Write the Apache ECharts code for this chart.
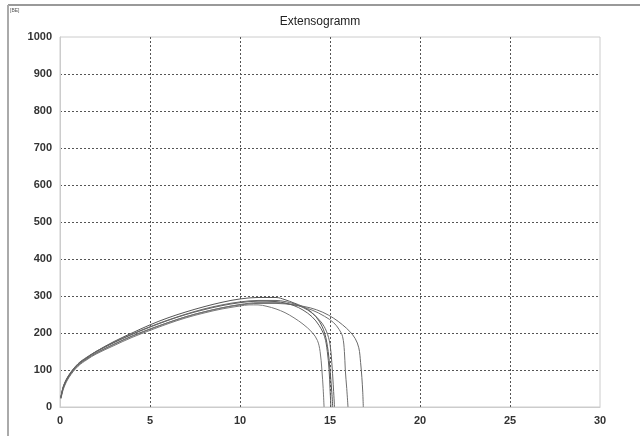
<!DOCTYPE html>
<html>
<head>
<meta charset="utf-8">
<script src="https://cdn.jsdelivr.net/npm/echarts@6/dist/echarts.min.js"></script>
<style>
  html, body { margin: 0; padding: 0; background: #fff; }
  #chart { width: 640px; height: 436px; }
</style>
</head>
<body>
<div id="chart"></div>
<script>
// Extensogram: force over extension, six test pieces
const xTicks = [0, 5, 10, 15, 20, 25, 30];
const yTicks = [0, 100, 200, 300, 400, 500, 600, 700, 800, 900, 1000];

const curve1 = [[0.05,25],[0.2,55],[0.5,85],[1,115],[1.5,133],[2,150],[3,177],[4,200],[5,222],[6,241],[7,257],[8,271],[9,283],[10,292],[11,296],[12,296],[12.5,290],[13,281],[13.5,271],[14,255],[14.4,232],[14.7,200],[14.9,150],[15.0,100],[15.1,40],[15.15,0]];
const curve2 = [[0.05,22],[0.2,50],[0.5,80],[1,110],[1.5,128],[2,143],[3,166],[4,188],[5,207],[6,225],[7,241],[8,254],[9,265],[10,273],[10.5,276],[11,276],[11.5,272],[12,265],[12.5,255],[13,241],[13.5,224],[14,202],[14.3,180],[14.45,150],[14.55,100],[14.62,50],[14.67,0]];
const curve3 = [[0.05,26],[0.2,56],[0.5,84],[1,113],[1.5,131],[2,146],[3,170],[4,192],[5,211],[6,228],[7,244],[8,257],[9,268],[10,276],[11,280],[12,280],[13,276],[13.9,268],[14.6,256],[15.2,240],[15.7,222],[16.1,204],[16.4,185],[16.6,160],[16.7,120],[16.77,80],[16.82,40],[16.85,0]];
const curve4 = [[0.05,24],[0.2,53],[0.5,82],[1,112],[1.5,130],[2,145],[3,169],[4,191],[5,210],[6,228],[7,244],[8,257],[9,268],[10,277],[11,282],[12,282],[13,276],[14,262],[14.7,245],[15.2,228],[15.5,210],[15.7,190],[15.8,150],[15.85,100],[15.93,50],[16.0,0]];
const curve5 = [[0.05,25],[0.2,57],[0.5,86],[1,116],[1.5,134],[2,149],[3,174],[4,196],[5,216],[6,234],[7,250],[8,263],[9,274],[10,282],[11,286],[12,285],[12.5,281],[13,274],[13.5,262],[14,244],[14.4,220],[14.7,190],[14.85,150],[14.95,100],[15.0,50],[15.05,0]];
const curve6 = [[0.05,27],[0.2,58],[0.5,87],[1,117],[1.5,135],[2,150],[3,175],[4,197],[5,217],[6,235],[7,251],[8,265],[9,276],[10,284],[11,288],[12,288],[12.5,285],[13,279],[13.5,269],[14,254],[14.5,230],[14.8,205],[15.0,170],[15.1,120],[15.18,60],[15.25,0]];

const curves = [curve1, curve2, curve3, curve4, curve5, curve6];
const curveColors = ['#555', '#7a7a7a', '#6a6a6a', '#707070', '#5e5e5e', '#666'];

const chart = echarts.init(document.getElementById('chart'), null, { renderer: 'canvas' });

const labelFont = { color: '#333', fontSize: 11, fontWeight: 'bold', fontFamily: 'Liberation Sans, Arial, sans-serif' };

chart.setOption({
  backgroundColor: '#fff',
  animation: false,
  title: {
    text: 'Extensogramm',
    left: 'center',
    top: 11,
    textStyle: { color: '#222', fontSize: 12, fontWeight: 'normal', fontFamily: 'Liberation Sans, Arial, sans-serif' }
  },
  graphic: [
    { type: 'line', shape: { x1: 8, y1: 5, x2: 640, y2: 5 }, style: { stroke: '#999', lineWidth: 2 } },
    { type: 'line', shape: { x1: 8, y1: 5, x2: 8, y2: 436 }, style: { stroke: '#aaa', lineWidth: 2 } },
    { type: 'text', left: 10, top: 8, style: { text: '[BE]', fill: '#555', fontSize: 5, fontFamily: 'Liberation Sans, Arial, sans-serif' } }
  ],
  grid: {
    left: 60, right: 40, top: 37, bottom: 29,
    show: true, borderColor: '#ccc', borderWidth: 1, backgroundColor: 'transparent'
  },
  xAxis: {
    type: 'value',
    min: xTicks[0], max: xTicks[xTicks.length - 1], interval: 5,
    axisLine: { show: true, lineStyle: { color: '#ccc' } },
    axisTick: { show: false },
    axisLabel: Object.assign({ margin: 8, formatter: v => String(v) }, labelFont),
    splitLine: { show: true, showMinLine: false, showMaxLine: false, lineStyle: { color: '#555', type: [2, 2], width: 1 } }
  },
  yAxis: {
    type: 'value',
    min: yTicks[0], max: yTicks[yTicks.length - 1], interval: 100,
    axisLine: { show: true, lineStyle: { color: '#ccc' } },
    axisTick: { show: false },
    axisLabel: Object.assign({ margin: 8, formatter: v => String(v) }, labelFont),
    splitLine: { show: true, showMinLine: false, showMaxLine: false, lineStyle: { color: '#555', type: [2, 2], width: 1 } }
  },
  series: curves.map((c, i) => ({
    type: 'line',
    data: c,
    showSymbol: false,
    smooth: 0.35,
    lineStyle: { color: curveColors[i], width: 1 },
    z: 3
  }))
});
</script>
</body>
</html>
